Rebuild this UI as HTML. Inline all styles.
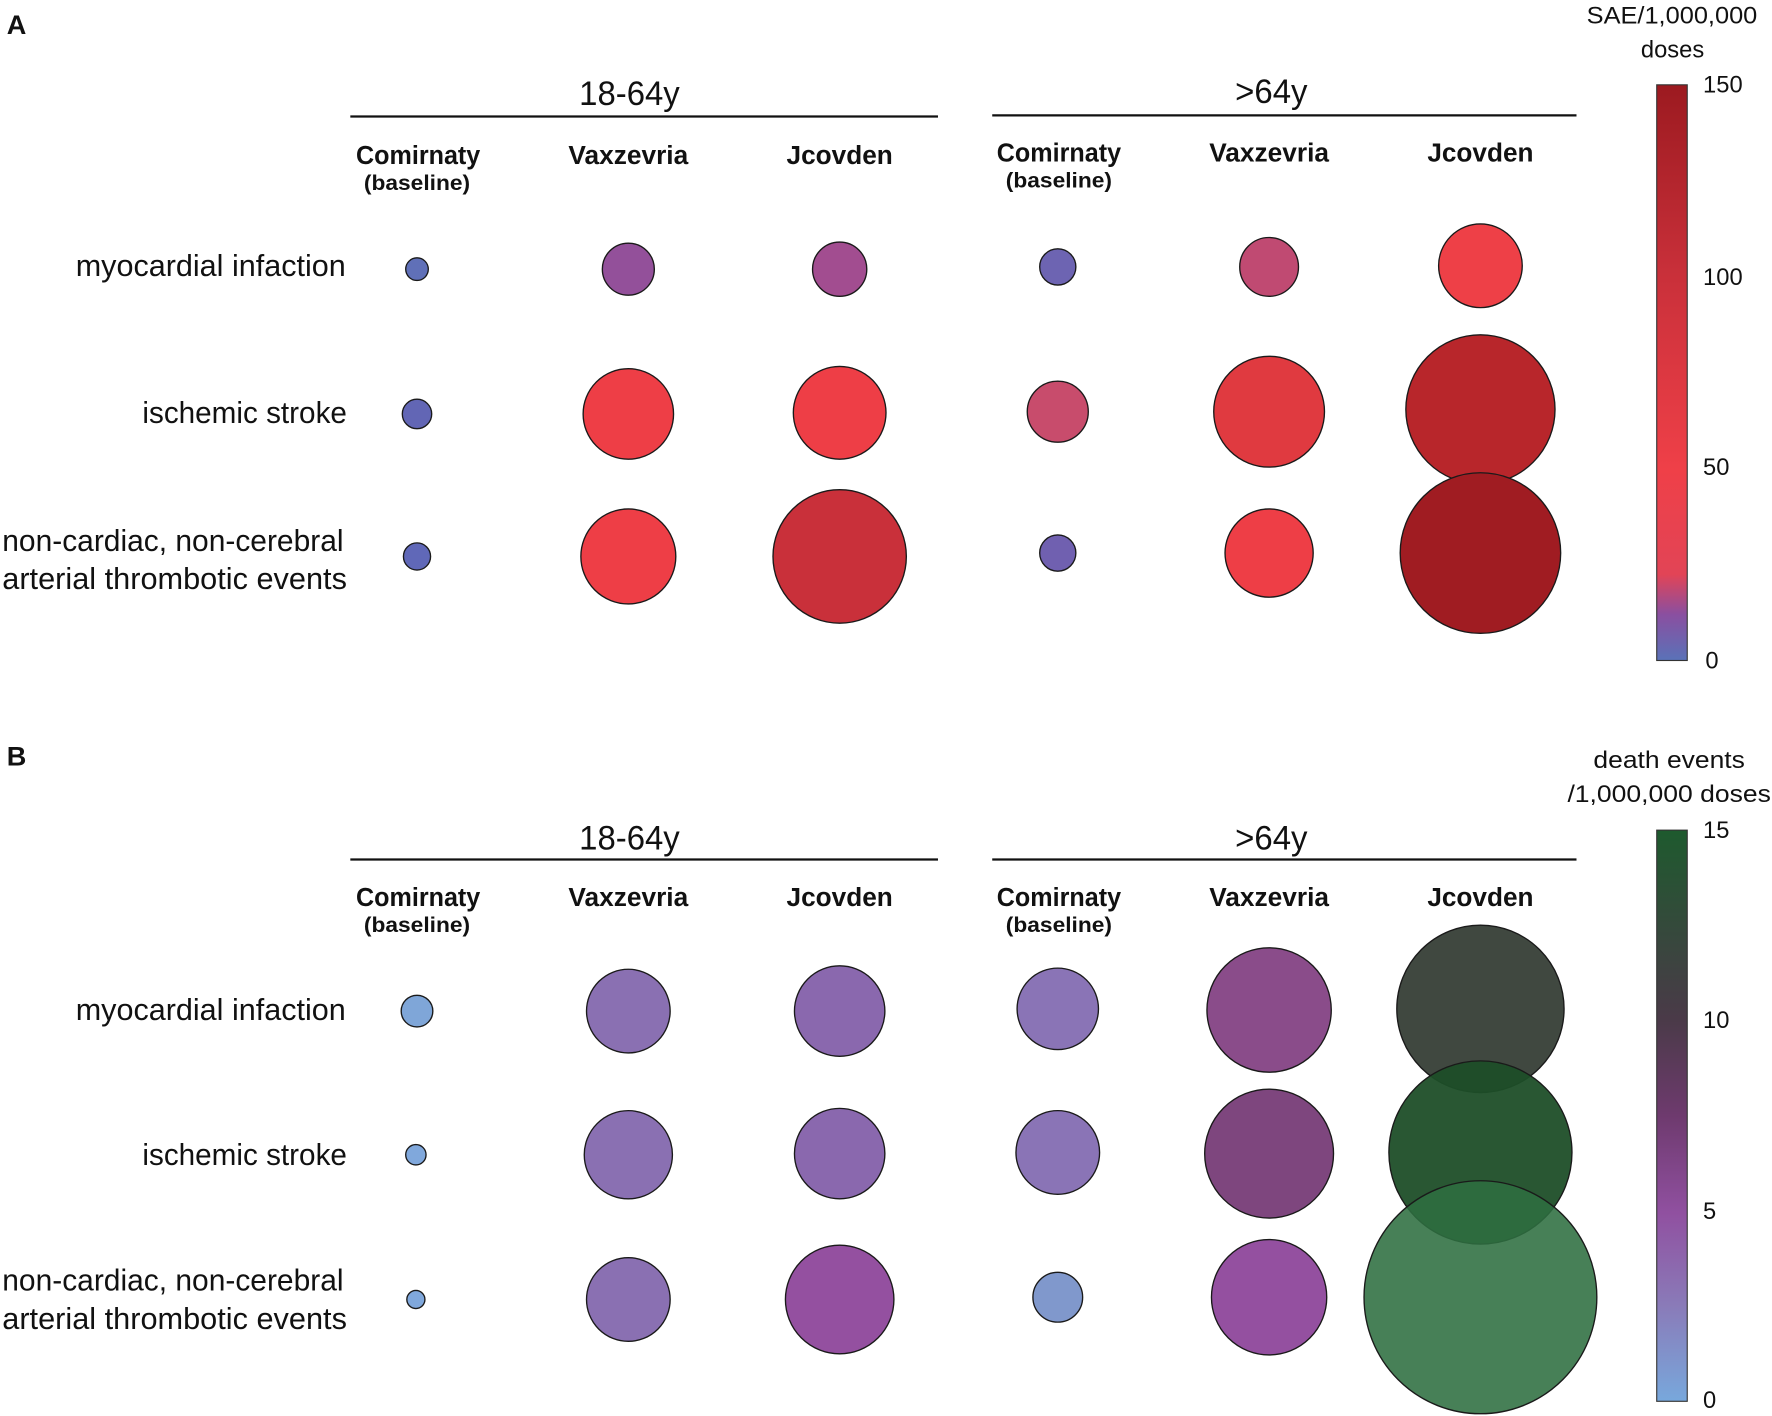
<!DOCTYPE html>
<html><head><meta charset="utf-8"><style>
html,body{margin:0;padding:0;background:#fff}
svg{display:block}
text{font-family:"Liberation Sans",sans-serif;fill:#111}
.rl{font-size:27px}
.cl{font-size:23px;font-weight:bold}
.bl{font-size:19px;font-weight:bold}
.hd{font-size:30px}
.tk{font-size:21px}
circle{stroke:#1a1a1a;stroke-width:1.2}
</style></head><body>
<svg width="1772" height="1416" viewBox="0 0 1568 1252" xmlns="http://www.w3.org/2000/svg" preserveAspectRatio="none">
<defs>
<linearGradient id="gA" x1="0" y1="1" x2="0" y2="0">
<stop offset="0" stop-color="#5a72b8"/>
<stop offset="0.08" stop-color="#8a4fa0"/>
<stop offset="0.15" stop-color="#e24456"/>
<stop offset="0.33" stop-color="#ef4048"/>
<stop offset="0.67" stop-color="#c9303a"/>
<stop offset="1" stop-color="#9c1a20"/>
</linearGradient>
<linearGradient id="gB" x1="0" y1="1" x2="0" y2="0">
<stop offset="0" stop-color="#78a8dc"/>
<stop offset="0.17" stop-color="#8a7ab8"/>
<stop offset="0.33" stop-color="#9050a0"/>
<stop offset="0.5" stop-color="#6e3a6e"/>
<stop offset="0.67" stop-color="#4a3a48"/>
<stop offset="1" stop-color="#1e5a2e"/>
</linearGradient>
</defs>

<g lengthAdjust="spacingAndGlyphs">
<!-- Panel A -->
<text x="6" y="30" style="font-size:24px;font-weight:bold">A</text>
<text x="1555" y="21" text-anchor="end" class="tk" textLength="151" lengthAdjust="spacingAndGlyphs">SAE/1,000,000</text>
<text x="1480" y="51" text-anchor="middle" class="tk">doses</text>
<text x="557" y="93" text-anchor="middle" class="hd" textLength="89" lengthAdjust="spacingAndGlyphs">18-64y</text>
<line x1="310" y1="103" x2="830" y2="103" stroke="#111" stroke-width="2"/>
<text x="1125" y="91" text-anchor="middle" class="hd" textLength="64" lengthAdjust="spacingAndGlyphs">&gt;64y</text>
<line x1="878" y1="102" x2="1395" y2="102" stroke="#111" stroke-width="2"/>
<g text-anchor="middle">
<text x="370" y="145" class="cl" textLength="110" lengthAdjust="spacingAndGlyphs">Comirnaty</text>
<text x="369" y="168" class="bl" textLength="94" lengthAdjust="spacingAndGlyphs">(baseline)</text>
<text x="556" y="145" class="cl" textLength="106" lengthAdjust="spacingAndGlyphs">Vaxzevria</text>
<text x="743" y="145" class="cl" textLength="94" lengthAdjust="spacingAndGlyphs">Jcovden</text>
<text x="937" y="143" class="cl" textLength="110" lengthAdjust="spacingAndGlyphs">Comirnaty</text>
<text x="937" y="166" class="bl" textLength="94" lengthAdjust="spacingAndGlyphs">(baseline)</text>
<text x="1123" y="143" class="cl" textLength="106" lengthAdjust="spacingAndGlyphs">Vaxzevria</text>
<text x="1310" y="143" class="cl" textLength="94" lengthAdjust="spacingAndGlyphs">Jcovden</text>
</g>
<g text-anchor="end">
<text x="306" y="244" class="rl" textLength="239" lengthAdjust="spacingAndGlyphs">myocardial infaction</text>
<text x="307" y="374" class="rl" textLength="181" lengthAdjust="spacingAndGlyphs">ischemic stroke</text>
<text x="304" y="487" class="rl" textLength="302" lengthAdjust="spacingAndGlyphs">non-cardiac, non-cerebral</text>
<text x="307" y="521" class="rl" textLength="305" lengthAdjust="spacingAndGlyphs">arterial thrombotic events</text>
</g>
</g>
<circle cx="369" cy="238" r="10" fill="#6070b8"/>
<circle cx="556" cy="238" r="23" fill="#93509a"/>
<circle cx="743" cy="238" r="24" fill="#a24d90"/>
<circle cx="936" cy="236" r="16" fill="#6d64b2"/>
<circle cx="1123" cy="236" r="26" fill="#c04a72"/>
<circle cx="1310" cy="235" r="37" fill="#ee4047"/>
<circle cx="369" cy="366" r="13" fill="#6266b5"/>
<circle cx="556" cy="366" r="40" fill="#ee3e46"/>
<circle cx="743" cy="365" r="41" fill="#ee3e46"/>
<circle cx="936" cy="364" r="27" fill="#c84c6c"/>
<circle cx="1123" cy="364" r="49" fill="#e03a40"/>
<circle cx="1310" cy="362" r="66" fill="#b8262b"/>
<circle cx="369" cy="492" r="12" fill="#6068b8"/>
<circle cx="556" cy="492" r="42" fill="#ee3e46"/>
<circle cx="743" cy="492" r="59" fill="#c9303a"/>
<circle cx="936" cy="489" r="16" fill="#7060b0"/>
<circle cx="1123" cy="489" r="39" fill="#ee3e46"/>
<circle cx="1310" cy="489" r="71" fill="#a01c22"/>
<rect x="1466" y="75" width="27" height="509" fill="url(#gA)" stroke="#333" stroke-width="1"/>
<text x="1507" y="82" class="tk">150</text>
<text x="1507" y="252" class="tk">100</text>
<text x="1507" y="420" class="tk">50</text>
<text x="1509" y="591" class="tk">0</text>

<!-- Panel B -->
<text x="6" y="677" style="font-size:24px;font-weight:bold">B</text>
<text x="1477" y="679" text-anchor="middle" class="tk" textLength="134" lengthAdjust="spacingAndGlyphs">death events</text>
<text x="1477" y="709" text-anchor="middle" class="tk" textLength="180" lengthAdjust="spacingAndGlyphs">/1,000,000 doses</text>
<text x="557" y="751" text-anchor="middle" class="hd" textLength="89" lengthAdjust="spacingAndGlyphs">18-64y</text>
<line x1="310" y1="760" x2="830" y2="760" stroke="#111" stroke-width="2"/>
<text x="1125" y="751" text-anchor="middle" class="hd" textLength="64" lengthAdjust="spacingAndGlyphs">&gt;64y</text>
<line x1="878" y1="760" x2="1395" y2="760" stroke="#111" stroke-width="2"/>
<g text-anchor="middle">
<text x="370" y="801" class="cl" textLength="110" lengthAdjust="spacingAndGlyphs">Comirnaty</text>
<text x="369" y="824" class="bl" textLength="94" lengthAdjust="spacingAndGlyphs">(baseline)</text>
<text x="556" y="801" class="cl" textLength="106" lengthAdjust="spacingAndGlyphs">Vaxzevria</text>
<text x="743" y="801" class="cl" textLength="94" lengthAdjust="spacingAndGlyphs">Jcovden</text>
<text x="937" y="801" class="cl" textLength="110" lengthAdjust="spacingAndGlyphs">Comirnaty</text>
<text x="937" y="824" class="bl" textLength="94" lengthAdjust="spacingAndGlyphs">(baseline)</text>
<text x="1123" y="801" class="cl" textLength="106" lengthAdjust="spacingAndGlyphs">Vaxzevria</text>
<text x="1310" y="801" class="cl" textLength="94" lengthAdjust="spacingAndGlyphs">Jcovden</text>
</g>
<g text-anchor="end">
<text x="306" y="902" class="rl" textLength="239" lengthAdjust="spacingAndGlyphs">myocardial infaction</text>
<text x="307" y="1030" class="rl" textLength="181" lengthAdjust="spacingAndGlyphs">ischemic stroke</text>
<text x="304" y="1141" class="rl" textLength="302" lengthAdjust="spacingAndGlyphs">non-cardiac, non-cerebral</text>
<text x="307" y="1175" class="rl" textLength="305" lengthAdjust="spacingAndGlyphs">arterial thrombotic events</text>
</g>
<circle cx="369" cy="894" r="14" fill="#7fa6d8"/>
<circle cx="556" cy="894" r="37" fill="#8a70b2"/>
<circle cx="743" cy="894" r="40" fill="#8a68ae"/>
<circle cx="936" cy="892" r="36" fill="#8a74b6"/>
<circle cx="1123" cy="893" r="55" fill="#8a4c8a"/>
<circle cx="1310" cy="892" r="74" fill="#404840"/>
<circle cx="368" cy="1021" r="9" fill="#80a8dc"/>
<circle cx="556" cy="1021" r="39" fill="#8a70b2"/>
<circle cx="743" cy="1020" r="40" fill="#8a68ae"/>
<circle cx="936" cy="1019" r="37" fill="#8a74b6"/>
<circle cx="1123" cy="1020" r="57" fill="#7e467e"/>
<circle cx="1310" cy="1019" r="81" fill="#1e4e28" fill-opacity="0.95"/>
<circle cx="368" cy="1149" r="8" fill="#80a8dc"/>
<circle cx="556" cy="1149" r="37" fill="#8a70b2"/>
<circle cx="743" cy="1149" r="48" fill="#9450a0"/>
<circle cx="936" cy="1147" r="22" fill="#8098cc"/>
<circle cx="1123" cy="1147" r="51" fill="#9450a0"/>
<circle cx="1310" cy="1147" r="103" fill="#2e6e40" fill-opacity="0.88"/>
<rect x="1466" y="734" width="27" height="505" fill="url(#gB)" stroke="#333" stroke-width="1"/>
<text x="1507" y="741" class="tk">15</text>
<text x="1507" y="909" class="tk">10</text>
<text x="1507" y="1078" class="tk">5</text>
<text x="1507" y="1245" class="tk">0</text>
</svg>
</body></html>
